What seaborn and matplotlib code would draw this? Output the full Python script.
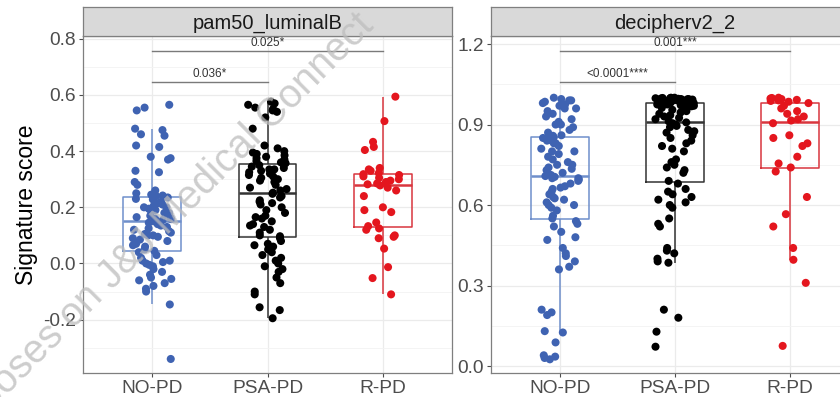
import numpy as np
import pandas as pd
import matplotlib
matplotlib.use("Agg")
import matplotlib.pyplot as plt
from matplotlib.ticker import FuncFormatter, MultipleLocator
import seaborn as sns

# Categories and colours
groups = ["NO-PD", "PSA-PD", "R-PD"]
point_colors = {"NO-PD": "#3F63B2", "PSA-PD": "#000000", "R-PD": "#E4161E"}
box_colors = {"NO-PD": "#6F8FCB", "PSA-PD": "#333333", "R-PD": "#D9363E"}

# pam50_luminalB signature scores
lum_nopd = [-0.34, -0.146, -0.10, -0.09, -0.08, -0.07, -0.06, -0.055, -0.05, -0.04, -0.03,
            -0.02, -0.01, -0.005, 0.0, 0.005, 0.01, 0.01, 0.02, 0.03, 0.04,
            0.045, 0.05, 0.06, 0.065, 0.07, 0.08, 0.085, 0.09, 0.095, 0.10, 0.10,
            0.105, 0.11, 0.115, 0.12, 0.125, 0.13, 0.135, 0.14, 0.145, 0.15,
            0.155, 0.158, 0.16, 0.165, 0.165, 0.17, 0.175, 0.18, 0.18, 0.185, 0.19,
            0.195, 0.20, 0.20, 0.205, 0.21, 0.215, 0.22, 0.228, 0.23, 0.235,
            0.24, 0.242, 0.245, 0.25, 0.26, 0.28, 0.29, 0.325, 0.33, 0.37, 0.375,
            0.38, 0.415, 0.42, 0.455, 0.46, 0.475, 0.48, 0.545, 0.555, 0.565]
lum_psapd = [-0.195, -0.166, -0.156, -0.11, -0.10, -0.07, -0.05, -0.03, -0.02, -0.01, 0.0,
             0.01, 0.02, 0.03, 0.04, 0.05, 0.06, 0.065, 0.07, 0.08, 0.09,
             0.097, 0.10, 0.11, 0.12, 0.13, 0.135, 0.14, 0.15, 0.16, 0.165, 0.17,
             0.18, 0.19, 0.20, 0.21, 0.215, 0.22, 0.225, 0.235, 0.24, 0.248,
             0.252, 0.26, 0.265, 0.27, 0.28, 0.29, 0.295, 0.30, 0.30, 0.305, 0.31,
             0.315, 0.32, 0.325, 0.33, 0.335, 0.335, 0.34, 0.345, 0.35, 0.352,
             0.357, 0.36, 0.365, 0.37, 0.375, 0.38, 0.385, 0.39, 0.395, 0.40, 0.41,
             0.42, 0.48, 0.52, 0.54, 0.545, 0.55, 0.555, 0.565, 0.57, 0.576]
lum_rpd = [-0.11, -0.052, -0.013, 0.053, 0.09, 0.095, 0.10, 0.12, 0.125,
           0.133, 0.146, 0.183, 0.19, 0.20, 0.24, 0.26, 0.27, 0.278,
           0.282, 0.285, 0.29, 0.295, 0.30, 0.305, 0.31, 0.315, 0.318,
           0.322, 0.33, 0.335, 0.34, 0.404, 0.415, 0.433, 0.507, 0.594]

# decipherv2_2 signature scores
dec_nopd = [0.025, 0.03, 0.035, 0.04, 0.088, 0.125, 0.13, 0.19, 0.20, 0.21, 0.36,
            0.37, 0.39, 0.41, 0.42, 0.44, 0.47, 0.48, 0.50, 0.52, 0.53, 0.54,
            0.55, 0.56, 0.58, 0.59, 0.60, 0.60, 0.61, 0.62, 0.625, 0.63, 0.64,
            0.65, 0.66, 0.665, 0.67, 0.68, 0.69, 0.695, 0.70, 0.70, 0.705, 0.708,
            0.712, 0.72, 0.73, 0.735, 0.74, 0.75, 0.75, 0.76, 0.77, 0.78, 0.79,
            0.80, 0.80, 0.81, 0.82, 0.83, 0.83, 0.84, 0.84, 0.845, 0.85, 0.852,
            0.858, 0.86, 0.87, 0.88, 0.89, 0.90, 0.90, 0.91, 0.92, 0.93, 0.94,
            0.95, 0.96, 0.96, 0.97, 0.975, 0.98, 0.985, 0.99, 0.99, 0.995, 1.0]
dec_psapd = [0.072, 0.128, 0.18, 0.21, 0.385, 0.39, 0.40, 0.42, 0.43, 0.44, 0.52,
             0.53, 0.55, 0.59, 0.60, 0.61, 0.62, 0.63, 0.64, 0.65, 0.66, 0.68,
             0.69, 0.72, 0.73, 0.74, 0.75, 0.76, 0.77, 0.80, 0.81, 0.82, 0.83,
             0.84, 0.85, 0.86, 0.87, 0.875, 0.88, 0.89, 0.895, 0.90, 0.905, 0.908,
             0.912, 0.92, 0.925, 0.93, 0.935, 0.94, 0.945, 0.95, 0.955, 0.96, 0.962,
             0.965, 0.968, 0.97, 0.972, 0.975, 0.975, 0.978, 0.978, 0.98, 0.98, 0.981,
             0.983, 0.984, 0.985, 0.986, 0.987, 0.988, 0.989, 0.99, 0.99, 0.991, 0.992,
             0.993, 0.994, 0.995, 0.995, 0.996, 0.997, 0.998, 0.998, 0.999, 1.0, 1.0]
dec_rpd = [0.075, 0.31, 0.396, 0.44, 0.52, 0.566, 0.63, 0.725,
           0.74, 0.755, 0.78, 0.82, 0.83, 0.85, 0.86, 0.905,
           0.915, 0.92, 0.93, 0.94, 0.95, 0.96, 0.97, 0.98,
           0.985, 0.988, 0.99, 0.992, 0.995, 0.997, 0.999, 1.0]

# pairwise comparison labels: (group a, group b, bracket height, label)
lum_pvals = [("NO-PD", "PSA-PD", 0.645, "0.036*"), ("NO-PD", "R-PD", 0.755, "0.025*")]
dec_pvals = [("NO-PD", "PSA-PD", 1.057, "<0.0001****"), ("NO-PD", "R-PD", 1.173, "0.001***")]

panels = [
    ("pam50_luminalB", [lum_nopd, lum_psapd, lum_rpd], (-0.39, 0.81), [-0.2, 0.0, 0.2, 0.4, 0.6, 0.8], 0.1, lum_pvals),
    ("decipherv2_2", [dec_nopd, dec_psapd, dec_rpd], (-0.026, 1.23), [0.0, 0.3, 0.6, 0.9, 1.2], 0.15, dec_pvals),
]

plt.rcParams["font.family"] = ["Liberation Sans", "DejaVu Sans"]
fig = plt.figure(figsize=(8.4, 3.97), dpi=100)

axes_pos = [(83, 452), (491, 859)]
W, H = 840, 397
bottom, top, strip_top = 373, 36, 7

for (title, vals, ylim, yticks, minor, pvals), (x0, x1) in zip(panels, axes_pos):
    ax = fig.add_axes([x0 / W, 1 - bottom / H, (x1 - x0) / W, (bottom - top) / H])
    df = pd.DataFrame({
        "group": np.repeat(groups, [len(v) for v in vals]),
        "score": np.concatenate(vals),
    })
    sns.boxplot(data=df, x="group", y="score", hue="group", order=groups,
                palette=box_colors, fill=False, width=0.5, showfliers=False,
                linewidth=1.1, legend=False, ax=ax,
                medianprops={"linewidth": 1.8},
                capprops={"visible": False})
    sns.stripplot(data=df, x="group", y="score", hue="group", order=groups,
                  palette=point_colors, jitter=0.17, size=5.8, linewidth=0,
                  legend=False, ax=ax, zorder=3)

    ax.set_xlim(-0.6, 2.6)
    ax.set_ylim(*ylim)
    ax.set_yticks(yticks)
    ax.yaxis.set_minor_locator(MultipleLocator(minor))
    ax.yaxis.set_major_formatter(FuncFormatter(lambda v, p: f"{v:.1f}".replace("\u2212", "-")))
    ax.set_facecolor("white")
    ax.grid(True, which="major", color="#EBEBEB", linewidth=0.9, zorder=0)
    ax.grid(True, which="minor", axis="y", color="#F3F3F3", linewidth=0.6, zorder=0)
    ax.set_axisbelow(True)
    for s in ax.spines.values():
        s.set_color("#7F7F7F")
        s.set_linewidth(0.9)
    ax.tick_params(axis="both", labelsize=13.8, colors="#4D4D4D", length=3, width=0.8,
                   labelcolor="#4D4D4D", pad=2)
    ax.tick_params(which="minor", length=0)
    ax.set_xlabel("")
    ax.set_ylabel("Signature score" if x0 == 83 else "", fontsize=16.5, color="black", labelpad=4)

    for a, b, yb, lab in pvals:
        xa, xb = groups.index(a), groups.index(b)
        ax.plot([xa, xb], [yb, yb], color="#7A7A7A", linewidth=1.0, zorder=4)
        ax.text((xa + xb) / 2, yb + (ylim[1] - ylim[0]) * 0.006, lab, ha="center", va="bottom",
                fontsize=8.5, color="#333333", zorder=4)

    sax = fig.add_axes([x0 / W, 1 - top / H, (x1 - x0) / W, (top - strip_top) / H])
    sax.set_facecolor("#D9D9D9")
    sax.set_xticks([])
    sax.set_yticks([])
    for s in sax.spines.values():
        s.set_color("#7F7F7F")
        s.set_linewidth(0.9)
    sax.text(0.5, 0.45, title, ha="center", va="center", fontsize=14.5, color="#1A1A1A",
             transform=sax.transAxes)

# watermark
fig.text(155 / W, 1 - 232 / H, "purposes on J&J Medical Connect", rotation=45,
         ha="center", va="center", fontsize=28.5, color="#BDBDBD", alpha=0.75, zorder=10)

fig.savefig("out.png", dpi=100)
